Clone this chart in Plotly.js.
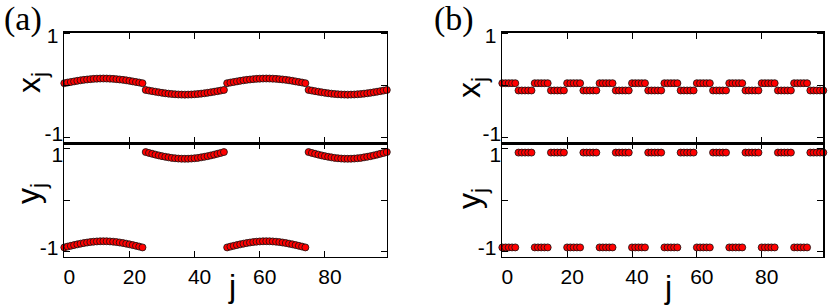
<!DOCTYPE html>
<html>
<head>
<meta charset="utf-8">
<script src="https://cdn.plot.ly/plotly-3.0.1.min.js"></script>
<style>html,body{margin:0;padding:0;background:#fff;}#chart{width:830px;height:307px;}</style>
</head>
<body>
<div id="chart"></div>
<script>
// ---- data ----
const jIndex = [0,1,2,3,4,5,6,7,8,9,10,11,12,13,14,15,16,17,18,19,20,21,22,23,24,25,26,27,28,29,30,31,32,33,34,35,36,37,38,39,40,41,42,43,44,45,46,47,48,49,50,51,52,53,54,55,56,57,58,59,60,61,62,63,64,65,66,67,68,69,70,71,72,73,74,75,76,77,78,79,80,81,82,83,84,85,86,87,88,89,90,91,92,93,94,95,96,97,98,99];

// panel (a), x_j
const xA = [
 0.050,0.062,0.073,0.084,0.095,0.105,0.114,0.121,0.128,0.133,0.137,0.139,0.140,0.139,0.137,0.133,0.128,0.121,0.114,0.105,0.095,0.084,0.073,0.062,0.050,
 -0.080,-0.092,-0.103,-0.114,-0.125,-0.135,-0.144,-0.151,-0.158,-0.163,-0.167,-0.169,-0.170,-0.169,-0.167,-0.163,-0.158,-0.151,-0.144,-0.135,-0.125,-0.114,-0.103,-0.092,-0.080,
 0.050,0.062,0.073,0.084,0.095,0.105,0.114,0.121,0.128,0.133,0.137,0.139,0.140,0.139,0.137,0.133,0.128,0.121,0.114,0.105,0.095,0.084,0.073,0.062,0.050,
 -0.080,-0.092,-0.103,-0.114,-0.125,-0.135,-0.144,-0.151,-0.158,-0.163,-0.167,-0.169,-0.170,-0.169,-0.167,-0.163,-0.158,-0.151,-0.144,-0.135,-0.125,-0.114,-0.103,-0.092,-0.080
];
// panel (a), y_j
const yA = [
 -0.920,-0.904,-0.889,-0.874,-0.860,-0.847,-0.835,-0.825,-0.816,-0.809,-0.804,-0.801,-0.800,-0.801,-0.804,-0.809,-0.816,-0.825,-0.835,-0.847,-0.860,-0.874,-0.889,-0.904,-0.920,
 0.930,0.913,0.896,0.880,0.865,0.851,0.838,0.827,0.817,0.810,0.804,0.801,0.800,0.801,0.804,0.810,0.817,0.827,0.838,0.851,0.865,0.880,0.896,0.913,0.930,
 -0.920,-0.904,-0.889,-0.874,-0.860,-0.847,-0.835,-0.825,-0.816,-0.809,-0.804,-0.801,-0.800,-0.801,-0.804,-0.809,-0.816,-0.825,-0.835,-0.847,-0.860,-0.874,-0.889,-0.904,-0.920,
 0.930,0.913,0.896,0.880,0.865,0.851,0.838,0.827,0.817,0.810,0.804,0.801,0.800,0.801,0.804,0.810,0.817,0.827,0.838,0.851,0.865,0.880,0.896,0.913,0.930
];
// panel (b), x_j
const xB = [
 0.05,0.05,0.05,0.05,0.05,-0.09,-0.09,-0.09,-0.09,-0.09,
 0.05,0.05,0.05,0.05,0.05,-0.09,-0.09,-0.09,-0.09,-0.09,
 0.05,0.05,0.05,0.05,0.05,-0.09,-0.09,-0.09,-0.09,-0.09,
 0.05,0.05,0.05,0.05,0.05,-0.09,-0.09,-0.09,-0.09,-0.09,
 0.05,0.05,0.05,0.05,0.05,-0.09,-0.09,-0.09,-0.09,-0.09,
 0.05,0.05,0.05,0.05,0.05,-0.09,-0.09,-0.09,-0.09,-0.09,
 0.05,0.05,0.05,0.05,0.05,-0.09,-0.09,-0.09,-0.09,-0.09,
 0.05,0.05,0.05,0.05,0.05,-0.09,-0.09,-0.09,-0.09,-0.09,
 0.05,0.05,0.05,0.05,0.05,-0.09,-0.09,-0.09,-0.09,-0.09,
 0.05,0.05,0.05,0.05,0.05,-0.09,-0.09,-0.09,-0.09,-0.09
];
// panel (b), y_j
const yB = [
 -0.92,-0.92,-0.92,-0.92,-0.92,0.92,0.92,0.92,0.92,0.92,
 -0.92,-0.92,-0.92,-0.92,-0.92,0.92,0.92,0.92,0.92,0.92,
 -0.92,-0.92,-0.92,-0.92,-0.92,0.92,0.92,0.92,0.92,0.92,
 -0.92,-0.92,-0.92,-0.92,-0.92,0.92,0.92,0.92,0.92,0.92,
 -0.92,-0.92,-0.92,-0.92,-0.92,0.92,0.92,0.92,0.92,0.92,
 -0.92,-0.92,-0.92,-0.92,-0.92,0.92,0.92,0.92,0.92,0.92,
 -0.92,-0.92,-0.92,-0.92,-0.92,0.92,0.92,0.92,0.92,0.92,
 -0.92,-0.92,-0.92,-0.92,-0.92,0.92,0.92,0.92,0.92,0.92,
 -0.92,-0.92,-0.92,-0.92,-0.92,0.92,0.92,0.92,0.92,0.92,
 -0.92,-0.92,-0.92,-0.92,-0.92,0.92,0.92,0.92,0.92,0.92
];

const xTickVals = [0,20,40,60,80];
const xTickText = ['0','20','40','60','80'];
const yTickVals = [-1,0,1];
const yTopTickText = ['', '', '1'];   // "-1" of the upper panels drawn on its own axis
const yBotTickText = ['-1', '', ''];  // "1" of the lower panels drawn on its own axis

// ---- layout helpers ----
const W = 830, H = 307;
const px = v => v / W;
const py = v => 1 - v / H;

const marker = {color:'#ff0000', size:7, line:{color:'#111111', width:0.8}};
function tr(x, y, xa, ya) {
  return {x:x, y:y, xaxis:xa, yaxis:ya, type:'scatter', mode:'markers',
          marker:marker, cliponaxis:false, hoverinfo:'skip', showlegend:false};
}
const data = [
  tr(jIndex, xA, 'x', 'y'),
  tr(jIndex, yA, 'x2', 'y2'),
  tr(jIndex, xB, 'x3', 'y3'),
  tr(jIndex, yB, 'x4', 'y4'),
  tr([], [], 'x', 'y5'),
  tr([], [], 'x2', 'y6'),
  tr([], [], 'x3', 'y7'),
  tr([], [], 'x4', 'y8')
];

const tickFont = {family:'Liberation Sans, Arial, sans-serif', size:21, color:'#000'};
function xax(dom, anchor, labels) {
  return {domain:dom, anchor:anchor, range:[0,99], tickvals:xTickVals, ticktext:xTickText,
    showticklabels:labels, ticks:'inside', ticklen:6, tickwidth:1, tickcolor:'#000',
    mirror:'ticks', showline:true, linecolor:'#000', linewidth:1.6,
    showgrid:false, zeroline:false, tickfont:tickFont, ticklabelshift:5};
}
function yax(dom, anchor, range, text, shift) {
  return {domain:dom, anchor:anchor, range:range, tickvals:yTickVals, ticktext:text,
    ticks:'inside', ticklen:6, tickwidth:1, tickcolor:'#000',
    mirror:'ticks', showline:true, linecolor:'#000', linewidth:1.6,
    showgrid:false, zeroline:false, tickfont:tickFont, ticklabelshift:shift};
}
function ylab(over, anchor, range, val, text, shift) {
  return {overlaying:over, anchor:anchor, side:'left', range:range, tickvals:[val], ticktext:[text],
    ticks:'', showline:false, showgrid:false, zeroline:false, tickfont:tickFont, ticklabelshift:shift};
}

const domXa = [px(64.3), px(386.8)];
const domXb = [px(502.3), px(823.3)];
const domTop = [py(143.3), py(32.7)];
const domBot = [py(256.7), py(143.3)];
const rTop = [-1.105, 1.02];
const rBot = [-1.1, 1.1];

const titleFont = {family:'Liberation Sans, Arial, sans-serif', size:32, color:'#000'};
const labelFont = {family:'Liberation Serif, Times New Roman, serif', size:34, color:'#000'};
function ann(text, x, y, font, angle) {
  return {text:text, x:px(x), y:py(y), xref:'paper', yref:'paper', xanchor:'center', yanchor:'middle',
          showarrow:false, font:font, textangle:angle || 0};
}

const layout = {
  width:W, height:H, margin:{l:0,r:0,t:0,b:0},
  paper_bgcolor:'#fff', plot_bgcolor:'#fff', showlegend:false,
  xaxis: xax(domXa, 'y', false),
  yaxis: yax(domTop, 'x', rTop, yTopTickText, 2),
  xaxis2: xax(domXa, 'y2', true),
  yaxis2: yax(domBot, 'x2', rBot, yBotTickText, -4),
  xaxis3: xax(domXb, 'y3', false),
  yaxis3: yax(domTop, 'x3', rTop, yTopTickText, 2),
  xaxis4: xax(domXb, 'y4', true),
  yaxis4: yax(domBot, 'x4', rBot, yBotTickText, -4),
  yaxis5: ylab('y', 'x', rTop, -1, '-1', -4),
  yaxis6: ylab('y2', 'x2', rBot, 1, '1', 6),
  yaxis7: ylab('y3', 'x3', rTop, -1, '-1', -4),
  yaxis8: ylab('y4', 'x4', rBot, 1, '1', 6),
  annotations: [
    ann('(a)', 23, 19, labelFont),
    ann('(b)', 454, 19, labelFont),
    ann('x<sub>j</sub>', 31, 83, titleFont, -90),
    ann('y<sub>j</sub>', 31, 194, titleFont, -90),
    ann('x<sub>j</sub>', 471, 88, titleFont, -90),
    ann('y<sub>j</sub>', 471, 199, titleFont, -90),
    ann('j', 232, 286, titleFont),
    ann('j', 668, 287, titleFont)
  ]
};

Plotly.newPlot('chart', data, layout, {staticPlot:true, displayModeBar:false});
</script>
</body>
</html>
